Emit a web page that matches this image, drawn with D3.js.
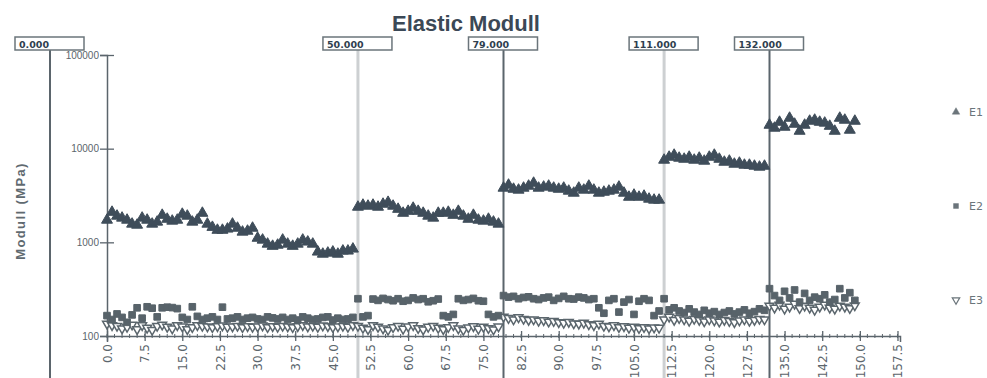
<!DOCTYPE html>
<html>
<head>
<meta charset="utf-8">
<script src="https://cdn.jsdelivr.net/npm/d3@7"></script>
<style>
  body { margin: 0; background: #fff; }
  svg { display: block; }
</style>
</head>
<body>
<svg id="chart" width="987" height="378"></svg>
<script>
// Modulus readings (MPa), one sample per time step, five load stages
const e1Values = [
  1730, 2100, 1910, 1820, 1730, 1570, 1530, 1820, 1730, 1570,
  1650, 1950, 1770, 1690, 1730, 2000, 1910, 1650, 1730, 2050,
  1570, 1450, 1350, 1350, 1390, 1570, 1420, 1290, 1320, 1420,
  1110, 1060, 960, 910, 935, 1060, 960, 910, 960, 1060,
  1010, 960, 790, 750, 770, 790, 750, 810, 810, 850,
  2380, 2500, 2440, 2500, 2380, 2560, 2680, 2440, 2260, 2050,
  2150, 2320, 2150, 2050, 1910, 1820, 2050, 2050, 2100, 1950,
  2150, 1910, 1770, 1950, 1730, 1690, 1770, 1650, 1570,
  3800, 4090, 3700, 3620, 3800, 3990, 4290, 3800, 3900, 3990,
  3800, 3700, 3800, 3530, 3360, 3800, 3620, 3990, 3620, 3360,
  3440, 3530, 3620, 3900, 3360, 3040, 3200, 3040, 3120, 2900,
  2830, 2830,
  7560, 8130, 8540, 7940, 7740, 8130, 7560, 7940, 7380, 8130,
  8540, 7740, 7190, 7380, 6850, 7020, 6680, 6680, 6520, 6370,
  6520,
  17860, 16600, 19200, 17000, 21200, 18300, 15400, 17860, 19700, 20200,
  19200, 18800, 17400, 15400, 21200, 20200, 15800, 19700
];
const e2Values = [
  165, 150, 172, 158, 140, 168, 200, 155, 205, 198,
  160, 200, 203, 201, 196, 158, 150, 205, 162, 150,
  155, 160, 150, 203, 152, 155, 160, 150, 155, 158,
  152, 150, 160, 156, 152, 158, 150, 155, 148, 160,
  155, 150, 152, 158, 160, 148, 155, 150, 152, 158,
  250, 160, 165, 248, 240, 252, 245, 238, 250, 235,
  240, 255, 245, 250, 232, 238, 248, 165, 160, 170,
  250, 240, 245, 252, 238, 235, 170, 160, 165,
  270, 260, 265, 250, 258, 262, 250, 245, 255, 260,
  240, 252, 265, 250, 248, 260, 255, 245, 250, 200,
  175, 240, 250, 180, 230, 245, 170, 235, 250, 240,
  165, 185,
  250, 190, 200, 185, 178, 195, 180, 170, 188, 175,
  182, 170, 178, 185, 172, 180, 190, 175, 182, 195,
  188,
  320, 270, 240, 300, 255, 310, 230, 285, 240, 260,
  250, 275, 230, 245, 320, 255, 290, 240
];
const e3Values = [
  135, 130, 128, 120, 125, 132, 118, 130, 122, 116,
  128, 132, 125, 120, 130, 126, 118, 124, 130, 128,
  126, 124, 127, 129, 125, 126, 128, 124, 127, 125,
  126, 129, 124, 127, 125, 128, 126, 124, 127, 130,
  126, 128, 125, 129, 127, 124, 126, 128, 125, 130,
  128, 122, 118, 130, 125, 120, 116, 124, 128, 119,
  126, 130, 121, 117, 125, 128, 122, 118, 124, 130,
  120, 116, 123, 127, 119, 125, 121, 117, 126,
  160, 155, 150, 158, 152, 148, 150, 145, 147, 142,
  144, 140, 138, 141, 136, 135, 138, 133, 130, 135,
  128, 126, 130, 124, 127, 122, 125, 121, 124, 120,
  123, 122,
  150, 160, 148, 155, 150, 145, 152, 148, 143, 150,
  146, 142, 148, 144, 140, 146, 150, 145, 148, 152,
  150,
  210, 200, 215, 195, 205, 220, 198, 210, 200, 190,
  205, 215, 200, 195, 210, 205, 198, 212
];
const seriesNames = ["E1", "E2", "E3"];
const timeStep = 1;
const xTickValues = [0, 7.5, 15, 22.5, 30, 37.5, 45, 52.5, 60, 67.5, 75, 82.5,
  90, 97.5, 105, 112.5, 120, 127.5, 135, 142.5, 150, 157.5];
const yTickValues = [100, 1000, 10000, 100000];
const cursorValues = [50, 79, 111, 132];
const cursorLabels = ["50.000", "79.000", "111.000", "132.000"];
const originCursorLabel = "0.000";

const svg = d3.select("#chart");
const axisColor = "#5b656c";
const markColor = { E1: "#3f4d5a", E2: "#58636a", E3: "#5b666d" };

const x = d3.scaleLinear().domain([0, 158]).range([107, 900]);
const y = d3.scaleLog().domain([100, 100000]).range([336, 55]);

// Title
svg.append("text")
  .attr("x", 466).attr("y", 31)
  .attr("text-anchor", "middle")
  .attr("font-family", "Liberation Sans, Arial, sans-serif")
  .attr("font-weight", "bold")
  .attr("font-size", 22)
  .attr("fill", "#3b4856")
  .text("Elastic Modull");

// Y axis title
svg.append("text")
  .attr("transform", "translate(25,211) rotate(-90)")
  .attr("text-anchor", "middle")
  .attr("font-family", "Liberation Sans, Arial, sans-serif")
  .attr("font-weight", "bold")
  .attr("font-size", 13)
  .attr("letter-spacing", 1.4)
  .attr("fill", "#5f6a70")
  .text("Modull (MPa)");

// Cursor lines behind the data
const cursors = svg.append("g");
cursorValues.forEach((v, i) => {
  const light = i % 2 === 0;
  cursors.append("line")
    .attr("x1", x(v)).attr("x2", x(v))
    .attr("y1", 50).attr("y2", 378)
    .attr("stroke", light ? "#cdd0d2" : axisColor)
    .attr("stroke-width", light ? 3 : 2);
});
// left frame cursor for the origin reading
cursors.append("line")
  .attr("x1", 50).attr("x2", 50).attr("y1", 50).attr("y2", 378)
  .attr("stroke", axisColor).attr("stroke-width", 2);

// X axis
const xAxis = svg.append("g")
  .attr("transform", `translate(0,${y(100)})`)
  .call(d3.axisBottom(x).tickValues(xTickValues).tickFormat(d3.format(".1f")).tickSizeOuter(0).tickSize(6));
xAxis.select(".domain").attr("stroke", axisColor).attr("stroke-width", 1.5);
xAxis.selectAll(".tick line").attr("y1", -5).attr("y2", 5).attr("stroke", axisColor).attr("stroke-width", 1.3);
xAxis.selectAll(".tick text")
  .attr("transform", "rotate(-90)")
  .attr("x", -8).attr("y", 0).attr("dy", "0.35em")
  .attr("text-anchor", "end")
  .attr("font-family", "DejaVu Sans, sans-serif")
  .attr("font-size", 12)
  .attr("fill", axisColor);
// minor ticks
svg.append("g").selectAll("line")
  .data(d3.range(0, 158, 1.5))
  .join("line")
  .attr("x1", d => x(d)).attr("x2", d => x(d))
  .attr("y1", y(100) - 2).attr("y2", y(100) + 2)
  .attr("stroke", axisColor).attr("stroke-width", 1);

// Y axis
const yAxis = svg.append("g")
  .attr("transform", `translate(${x(0)},0)`)
  .call(d3.axisLeft(y).tickValues(yTickValues).tickFormat(d3.format("d")).tickSizeOuter(0).tickSize(7));
yAxis.select(".domain").attr("stroke", axisColor).attr("stroke-width", 1.5);
yAxis.selectAll(".tick line").attr("x1", -7).attr("x2", 7).attr("stroke", axisColor).attr("stroke-width", 1.3);
yAxis.selectAll(".tick text")
  .attr("x", -8)
  .attr("font-family", "Liberation Sans, Arial, sans-serif")
  .attr("font-size", 10)
  .attr("fill", axisColor);

// Data series
const series = [
  { name: "E1", values: e1Values, symbol: d3.symbolTriangle, size: 52, open: false, rot: 0 },
  { name: "E2", values: e2Values, symbol: d3.symbolSquare, size: 44, open: false, rot: 0 },
  { name: "E3", values: e3Values, symbol: d3.symbolTriangle, size: 34, open: true, rot: 180 }
];
const plot = svg.append("g");
[series[2], series[1], series[0]].forEach(s => {
  const path = d3.symbol().type(s.symbol).size(s.size)();
  plot.append("g").selectAll("path")
    .data(s.values.map((v, i) => ({ t: i * timeStep, v })))
    .join("path")
    .attr("d", path)
    .attr("transform", d => `translate(${x(d.t)},${y(d.v)}) rotate(${s.rot})`)
    .attr("fill", s.open ? "#fff" : markColor[s.name])
    .attr("stroke", markColor[s.name])
    .attr("stroke-width", s.open ? 1.5 : 1);
});

// Cursor value boxes
const boxes = [{ cx: 50, label: originCursorLabel }]
  .concat(cursorValues.map((v, i) => ({ cx: x(v), label: cursorLabels[i] })));
const boxG = svg.append("g");
boxes.forEach(b => {
  boxG.append("rect")
    .attr("x", b.cx - 35).attr("y", 37)
    .attr("width", 69).attr("height", 13)
    .attr("fill", "#fff")
    .attr("stroke", "#6b757b").attr("stroke-width", 1.5);
  boxG.append("text")
    .attr("x", b.cx - 31).attr("y", 47.5)
    .attr("font-family", "DejaVu Sans, sans-serif")
    .attr("font-weight", "bold")
    .attr("font-size", 9.5)
    .attr("fill", "#2f3f4f")
    .text(b.label);
});

// Legend
const legend = svg.append("g");
series.forEach((s, i) => {
  const ly = 112 + i * 94;
  legend.append("path")
    .attr("d", d3.symbol().type(s.symbol).size(24)())
    .attr("transform", `translate(956,${ly}) rotate(${s.rot})`)
    .attr("fill", s.open ? "#fff" : "#6b757b")
    .attr("stroke", "#6b757b")
    .attr("stroke-width", s.open ? 1.2 : 0.5);
  legend.append("text")
    .attr("x", 969).attr("y", ly).attr("dy", "0.35em")
    .attr("font-family", "DejaVu Sans, sans-serif")
    .attr("font-size", 11)
    .attr("fill", "#6b757b")
    .text(s.name);
});
</script>
</body>
</html>
